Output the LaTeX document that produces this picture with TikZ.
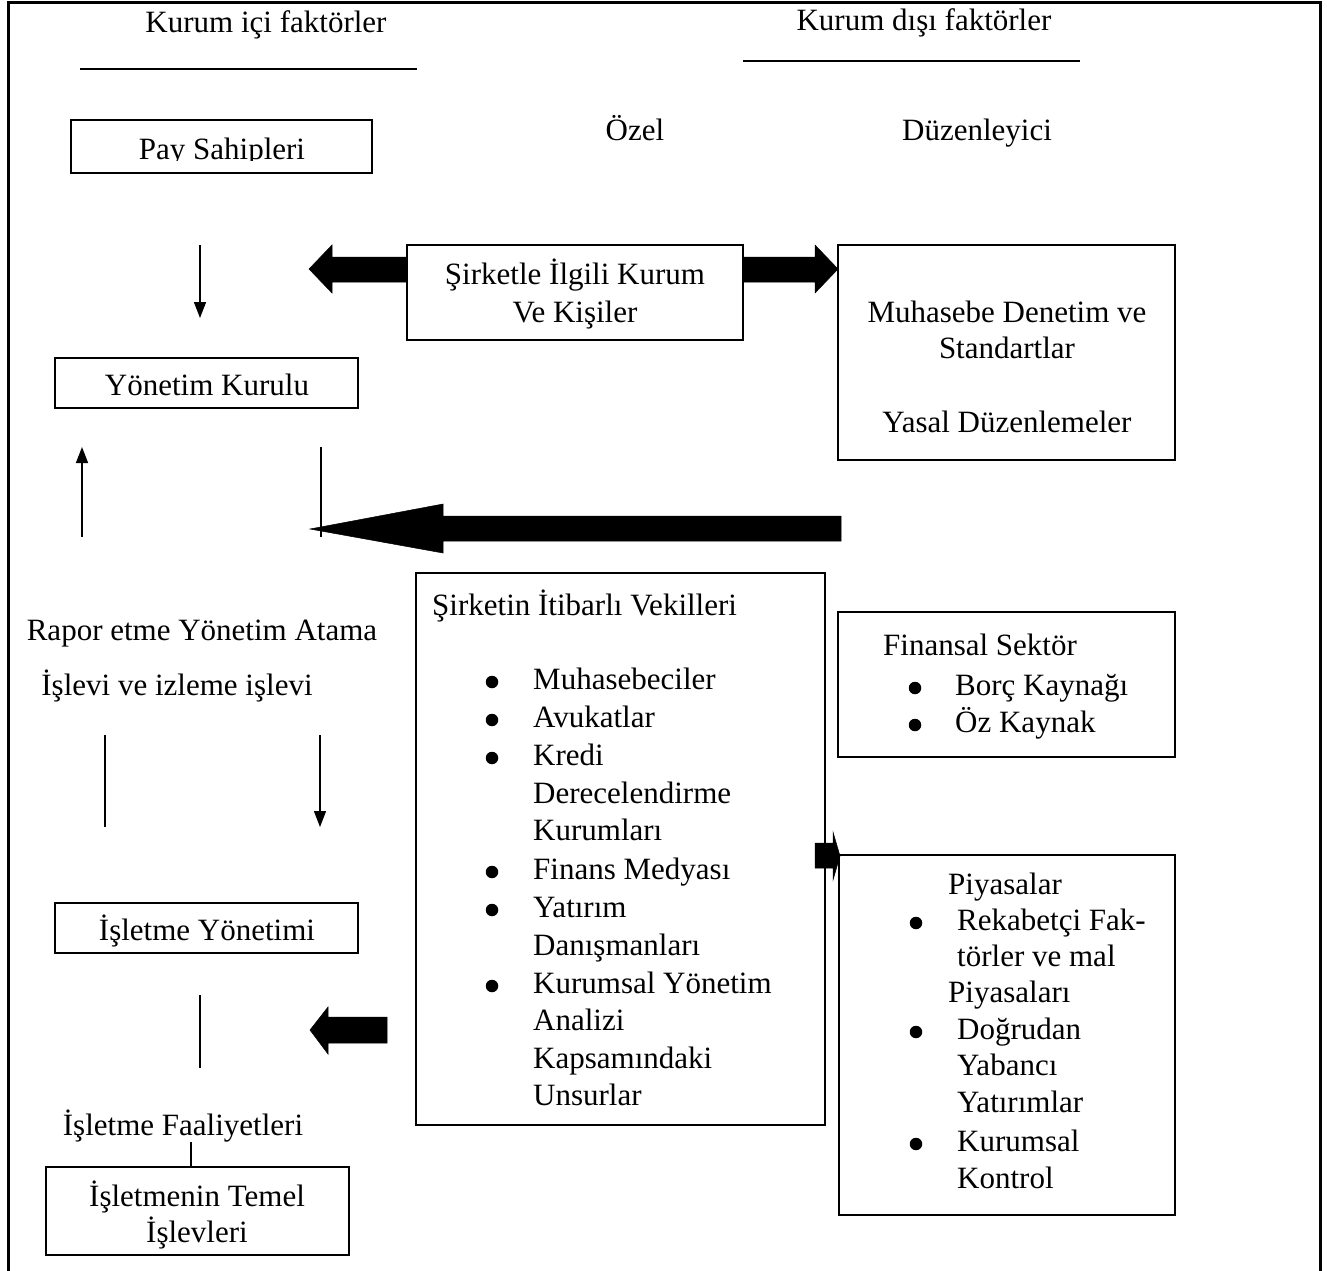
\documentclass[tikz,border=0pt]{standalone}
\usepackage{fontspec}
\setmainfont{Liberation Serif}
\usetikzlibrary{arrows.meta}
\begin{document}
\begin{tikzpicture}[x=1pt,y=-1pt,
  txt/.style={inner sep=0pt,font=\fontsize{31}{37}\selectfont},
  boxn/.style={draw,line width=1.6pt,inner sep=0pt},
  thinl/.style={line width=1.5pt},
  arr/.style={line width=1.5pt,-{Triangle[length=16pt,width=12pt]}},
  blk/.style={fill=black,draw=black,line width=0.5pt},
  bul/.style={circle,fill=black,inner sep=0pt,minimum size=12.5pt}]
\useasboundingbox (0,0) rectangle (1327,1270);
% frame
\draw[line width=3pt] (8,1272) -- (8,2) -- (1320,2) -- (1320,1272);
% headers
\node[txt,anchor=base] (h1) at (266,32) {Kurum içi faktörler};
\node[txt,anchor=base] (h2) at (924,30) {Kurum dışı faktörler};
\coordinate (l1a) at (80,69); \coordinate (l1b) at (417,69);
\coordinate (l2a) at (743,61); \coordinate (l2b) at (1080,61);
\draw[thinl] (l1a) -- (l1b);
\draw[thinl] (l2a) -- (l2b);
\node[txt,anchor=base] (ozel) at (635,140) {Özel};
\node[txt,anchor=base] (duz) at (977,140) {Düzenleyici};
% boxes
\node[boxn,minimum width=301pt,minimum height=53pt] (pay) at (221.5,146.5) {};
\begin{scope}
\clip (72,121) rectangle (371,160);
\node[txt,anchor=base] (payt) at (222,159) {Pay Sahipleri};
\end{scope}
\node[boxn,minimum width=336pt,minimum height=95pt] (sirk) at (575,292.5) {};
\node[txt,anchor=base] (sirk1) at (575,284) {Şirketle İlgili Kurum};
\node[txt,anchor=base] (sirk2) at (575,322) {Ve Kişiler};
\node[boxn,minimum width=337pt,minimum height=215pt] (muh) at (1006.5,352.5) {};
\node[txt,anchor=base] (muh1) at (1007,322) {Muhasebe Denetim ve};
\node[txt,anchor=base] (muh2) at (1007,358) {Standartlar};
\node[txt,anchor=base] (muh3) at (1007,432) {Yasal Düzenlemeler};
\node[boxn,minimum width=303pt,minimum height=50pt] (yk) at (206.5,383) {};
\node[txt,anchor=base] (ykt) at (207,395) {Yönetim Kurulu};
\node[boxn,minimum width=409pt,minimum height=552pt] (vek) at (620.5,849) {};
\node[txt,anchor=base west] (vekt) at (432,615) {Şirketin İtibarlı Vekilleri};
\foreach \i/\y/\b/\t in {1/689/1/Muhasebeciler,2/727/1/Avukatlar,3/765/1/Kredi,4/803/0/Derecelendirme,5/840/0/Kurumları,6/879/1/Finans Medyası,7/917/1/Yatırım,8/955/0/Danışmanları,9/993/1/Kurumsal Yönetim,10/1030/0/Analizi,11/1068/0/Kapsamındaki,12/1105/0/Unsurlar}{
  \node[txt,anchor=base west] (v\i) at (533,\y) {\t};
  \ifnum\b=1 \node[bul] (vb\i) at (492,\y-7) {};\fi
}
\node[boxn,minimum width=337pt,minimum height=145pt] (fin) at (1006.5,684.5) {};
\node[txt,anchor=base] (fint) at (980,655) {Finansal Sektör};
\node[bul] (fb1) at (915,688) {};
\node[txt,anchor=base west] (f1) at (955,695) {Borç Kaynağı};
\node[bul] (fb2) at (915,725) {};
\node[txt,anchor=base west] (f2) at (955,732) {Öz Kaynak};
\node[boxn,minimum width=336pt,minimum height=360pt] (piy) at (1007,1035) {};
\node[txt,anchor=base west] (piyt) at (948,894) {Piyasalar};
\foreach \i/\y/\b/\x/\t in {1/930/1/957/Rekabetçi Fak-,2/966/0/957/törler ve mal,3/1002/0/948/Piyasaları,4/1039/1/957/Doğrudan,5/1075/0/957/Yabancı,6/1112/0/957/Yatırımlar,7/1151/1/957/Kurumsal,8/1188/0/957/Kontrol}{
  \node[txt,anchor=base west] (p\i) at (\x,\y) {\t};
  \ifnum\b=1 \node[bul] (pb\i) at (916,\y-7) {};\fi
}
\node[boxn,minimum width=303pt,minimum height=50pt] (iy) at (206.5,928) {};
\node[txt,anchor=base] (iyt) at (207,940) {İşletme Yönetimi};
\node[txt,anchor=base] (rap1) at (202,640) {Rapor etme Yönetim Atama};
\node[txt,anchor=base] (rap2) at (177,695) {İşlevi ve izleme işlevi};
\node[txt,anchor=base] (faal) at (183,1135) {İşletme Faaliyetleri};
\node[boxn,minimum width=303pt,minimum height=88pt] (tem) at (197.5,1211) {};
\node[txt,anchor=base] (tem1) at (197,1206) {İşletmenin Temel};
\node[txt,anchor=base] (tem2) at (197,1242) {İşlevleri};
% thin arrows and lines
\coordinate (a1s) at (200,245); \coordinate (a1e) at (200,318);
\draw[arr] (a1s) -- (a1e);
\coordinate (a2s) at (82,537); \coordinate (a2e) at (82,447);
\draw[arr] (a2s) -- (a2e);
\coordinate (l3a) at (321,447); \coordinate (l3b) at (321,537);
\draw[thinl] (l3a) -- (l3b);
\coordinate (l4a) at (105,735); \coordinate (l4b) at (105,827);
\draw[thinl] (l4a) -- (l4b);
\coordinate (a3s) at (320,735); \coordinate (a3e) at (320,827);
\draw[arr] (a3s) -- (a3e);
\coordinate (l5a) at (200,995); \coordinate (l5b) at (200,1068);
\draw[thinl] (l5a) -- (l5b);
\coordinate (l6a) at (191,1142);
\draw[thinl] (l6a) -- (tem.north -| l6a);
% block arrows
\draw[blk] (sirk.west |- 0,257) -- (332,257) -- (332,245) -- (309,269) -- (332,293) -- (332,282) -- (sirk.west |- 0,282) -- cycle;
\draw[blk] (sirk.east |- 0,257) -- (815,257) -- (815,245) -- (838,269) -- (815,293) -- (815,282) -- (sirk.east |- 0,282) -- cycle;
\draw[blk] (841,516) -- (443,516) -- (443,504) -- (310,529) -- (443,553) -- (443,541) -- (841,541) -- cycle;
\draw[blk] (815,843) -- (833,843) -- (833,832) -- (840,856) -- (833,880) -- (833,868) -- (815,868) -- cycle;
\draw[blk] (387,1017) -- (328,1017) -- (328,1007) -- (310,1030) -- (328,1054) -- (328,1043) -- (387,1043) -- cycle;
\end{tikzpicture}
\end{document}
